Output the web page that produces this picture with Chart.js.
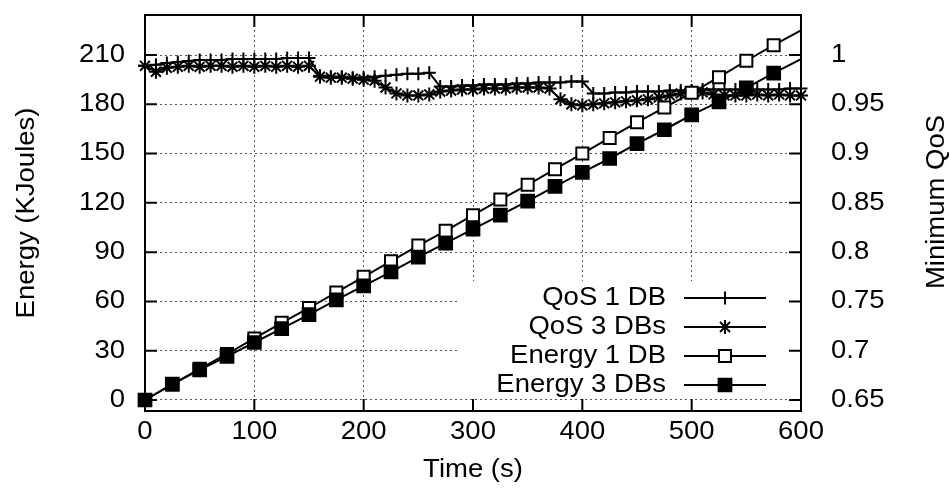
<!DOCTYPE html>
<html>
<head>
<meta charset="utf-8">
<title>Energy and minimum QoS over time</title>
<script src="https://cdn.jsdelivr.net/npm/chart.js@4/dist/chart.umd.min.js"></script>
<style>
  html, body { margin: 0; padding: 0; background: #fff; }
  canvas { display: block; }
</style>
</head>
<body>
<canvas id="c" width="949" height="495"></canvas>
<script>
// ---- data ----
const timeTicks = [0, 100, 200, 300, 400, 500, 600];
const energyTicks = [0, 30, 60, 90, 120, 150, 180, 210];
const qosTicks = [0.65, 0.7, 0.75, 0.8, 0.85, 0.9, 0.95, 1];

const seriesNames = ['QoS 1 DB', 'QoS 3 DBs', 'Energy 1 DB', 'Energy 3 DBs'];

// QoS samples (s)
const qosTimes = [
  0, 10, 20, 30, 40, 50, 60, 70, 80, 90,
  100, 110, 120, 130, 140, 150, 160, 170, 180, 190,
  200, 210, 220, 230, 240, 250, 260, 270, 280, 290,
  300, 310, 320, 330, 340, 350, 360, 370, 380, 390,
  400, 410, 420, 430, 440, 450, 460, 470, 480, 490,
  500, 510, 520, 530, 540, 550, 560, 570, 580, 590, 600
];
const qos1DB = [
  0.989, 0.990, 0.992, 0.993, 0.994, 0.995, 0.995, 0.995, 0.996, 0.996,
  0.996, 0.996, 0.996, 0.997, 0.997, 0.997, 0.979, 0.978, 0.978, 0.977,
  0.977, 0.978, 0.979, 0.980, 0.981, 0.981, 0.982, 0.968, 0.968, 0.969,
  0.969, 0.970, 0.970, 0.970, 0.971, 0.971, 0.972, 0.972, 0.972, 0.973,
  0.973, 0.961, 0.961, 0.962, 0.962, 0.963, 0.963, 0.963, 0.964, 0.964,
  0.964, 0.965, 0.965, 0.965, 0.965, 0.965, 0.965, 0.965, 0.965, 0.966, 0.966
];
const qos3DBs = [
  0.989, 0.983, 0.987, 0.988, 0.989, 0.988, 0.989, 0.989, 0.988, 0.989,
  0.988, 0.989, 0.988, 0.989, 0.988, 0.989, 0.978, 0.977, 0.977, 0.976,
  0.975, 0.974, 0.967, 0.961, 0.959, 0.959, 0.960, 0.963, 0.964, 0.965,
  0.965, 0.966, 0.966, 0.966, 0.967, 0.967, 0.967, 0.966, 0.955, 0.950,
  0.949, 0.950, 0.951, 0.952, 0.953, 0.954, 0.955, 0.957, 0.959, 0.961,
  0.963, 0.962, 0.960, 0.959, 0.959, 0.959, 0.960, 0.959, 0.960, 0.959, 0.959
];

// Energy samples (s)
const energyTimes = [
  0, 25, 50, 75, 100, 125, 150, 175, 200, 225, 250, 275,
  300, 325, 350, 375, 400, 425, 450, 475, 500, 525, 550, 575, 600
];
const energy1DB = [
  0, 9.5, 19, 28, 37.5, 47, 56, 65.5, 75, 84.5, 94, 103,
  112.5, 122, 131, 140.5, 150, 159.5, 169, 178, 187, 196.5, 206.5, 216, 225
];
const energy3DBs = [
  0, 9.7, 18.3, 26.5, 35, 43.5, 52, 61, 69.5, 78, 87, 95.5,
  104, 112.5, 121, 130, 138.5, 147, 156, 164.5, 173.5, 181.5, 190, 199, 207.5
];

// ---- styling ----
const INK = '#000';
const GRID = '#555';
const FONT = { family: '"Liberation Sans", Arial, Helvetica, sans-serif', size: 25 };
const TEXT_WIDEN = 1.1;    // the labels use a slightly widened face
const TICK_LEN = 12;       // inward tick marks
const MARK_R = [6.5, 7, 8.5, 9];

const canvas = document.getElementById('c');
const ctx = canvas.getContext('2d');

// widen every glyph run horizontally (in the text's own direction)
const baseFillText = CanvasRenderingContext2D.prototype.fillText;
ctx.fillText = function (text, x, y) {
  this.save();
  this.translate(x, y);
  this.scale(TEXT_WIDEN, 1);
  baseFillText.call(this, text, 0, 0);
  this.restore();
};

const toPoints = (xs, ys) => xs.map((x, i) => ({ x: x, y: ys[i] }));
const noMarkerOnLast = (r) => (c) => (c.dataIndex === c.dataset.data.length - 1 ? 0 : r);

const lineBase = {
  borderColor: INK,
  borderWidth: 2,
  pointBorderColor: INK,
  pointBorderWidth: 2,
  pointHoverRadius: 0,
  tension: 0,
  fill: false,
  clip: false
};

const datasets = [
  Object.assign({}, lineBase, {
    label: seriesNames[0], yAxisID: 'y2', order: 4,
    data: toPoints(qosTimes, qos1DB),
    pointStyle: 'cross', pointRadius: MARK_R[0], pointBackgroundColor: INK
  }),
  Object.assign({}, lineBase, {
    label: seriesNames[1], yAxisID: 'y2', order: 3,
    data: toPoints(qosTimes, qos3DBs),
    pointStyle: 'star', pointRadius: MARK_R[1], pointBackgroundColor: INK
  }),
  Object.assign({}, lineBase, {
    label: seriesNames[2], yAxisID: 'y', order: 2,
    data: toPoints(energyTimes, energy1DB),
    pointStyle: 'rect', pointRadius: noMarkerOnLast(MARK_R[2]), pointBackgroundColor: '#fff'
  }),
  Object.assign({}, lineBase, {
    label: seriesNames[3], yAxisID: 'y', order: 1,
    data: toPoints(energyTimes, energy3DBs),
    pointStyle: 'rect', pointRadius: noMarkerOnLast(MARK_R[3]), pointBackgroundColor: INK
  })
];

// key box, plot frame, inward ticks and the right-hand axis title
const framePlugin = {
  id: 'frame',
  beforeDatasetsDraw(chart) {
    const c = chart.ctx;
    const a = chart.chartArea;
    const boxRight = a.right - 11, boxBottom = a.bottom - 14;
    const boxLeft = boxRight - 332, boxTop = boxBottom - 116;
    c.save();
    c.fillStyle = '#fff';
    c.fillRect(boxLeft, boxTop, boxRight - boxLeft, boxBottom - boxTop);

    const textRight = boxLeft + 208;
    const lineX0 = boxLeft + 226, lineX1 = boxLeft + 308;
    const markX = (lineX0 + lineX1) / 2;
    c.font = `${FONT.size}px ${FONT.family}`;
    c.textAlign = 'right';
    c.textBaseline = 'middle';
    chart.data.datasets.forEach((ds, i) => {
      const y = boxTop + 17 + i * 29;
      c.fillStyle = INK;
      c.fillText(ds.label, textRight, y);
      c.strokeStyle = INK;
      c.lineWidth = 2;
      c.beginPath();
      c.moveTo(lineX0, y);
      c.lineTo(lineX1, y);
      c.stroke();
      c.fillStyle = ds.pointBackgroundColor;
      Chart.helpers.drawPoint(c, { pointStyle: ds.pointStyle, rotation: 0, radius: MARK_R[i], borderWidth: 2 }, markX, y);
    });
    c.restore();
  },
  afterDraw(chart) {
    const c = chart.ctx;
    const a = chart.chartArea;
    const { x, y, y2 } = chart.scales;
    c.save();
    c.strokeStyle = INK;
    c.lineWidth = 2;
    c.beginPath();
    timeTicks.forEach(v => {
      const px = x.getPixelForValue(v);
      c.moveTo(px, a.bottom); c.lineTo(px, a.bottom - TICK_LEN);
      c.moveTo(px, a.top); c.lineTo(px, a.top + TICK_LEN);
    });
    energyTicks.forEach(v => {
      const py = y.getPixelForValue(v);
      c.moveTo(a.left, py); c.lineTo(a.left + TICK_LEN, py);
    });
    qosTicks.forEach(v => {
      const py = y2.getPixelForValue(v);
      c.moveTo(a.right, py); c.lineTo(a.right - TICK_LEN, py);
    });
    c.stroke();
    c.strokeRect(a.left, a.top, a.right - a.left, a.bottom - a.top);

    // right axis title reads bottom-to-top
    c.fillStyle = INK;
    c.font = `${FONT.size}px ${FONT.family}`;
    c.textAlign = 'center';
    c.textBaseline = 'middle';
    c.translate(937, (a.top + a.bottom) / 2 - 11);
    c.rotate(-Math.PI / 2);
    c.fillText('Minimum QoS', 0, 0);
    c.restore();
  }
};

// fixed axis bands so the plot frame sits where it should
const fixBand = (prop, size) => (s) => {
  s[prop] = size;
  s.paddingTop = 0; s.paddingBottom = 0; s.paddingLeft = 0; s.paddingRight = 0;
};

const tickFont = { font: FONT, color: INK, autoSkip: false, maxRotation: 0, minRotation: 0 };

new Chart(ctx, {
  type: 'line',
  data: { datasets: datasets },
  options: {
    responsive: false,
    animation: false,
    devicePixelRatio: 1,
    events: [],
    layout: { padding: { top: 15, left: 0, right: 0, bottom: 0 } },
    plugins: { legend: { display: false }, tooltip: { enabled: false }, title: { display: false } },
    scales: {
      x: {
        type: 'linear', position: 'bottom', min: 0, max: 600,
        afterBuildTicks: s => { s.ticks = timeTicks.map(v => ({ value: v })); },
        afterFit: fixBand('height', 84),
        grid: { color: GRID, lineWidth: 1, drawTicks: false },
        border: { display: false, dash: [2, 3] },
        ticks: Object.assign({}, tickFont, { padding: 6, callback: v => String(v) }),
        title: { display: true, text: 'Time (s)', font: FONT, color: INK, padding: { top: 0, bottom: 10 } }
      },
      y: {
        type: 'linear', position: 'left', min: -6.696, max: 234.348,
        afterBuildTicks: s => { s.ticks = energyTicks.map(v => ({ value: v })); },
        afterFit: fixBand('width', 145),
        grid: { color: GRID, lineWidth: 1, drawTicks: false },
        border: { display: false, dash: [2, 3] },
        ticks: Object.assign({}, tickFont, { padding: 20, callback: v => String(v) }),
        title: { display: true, text: 'Energy (KJoules)', font: FONT, color: INK, padding: { top: 12, bottom: 0 } }
      },
      y2: {
        type: 'linear', position: 'right', min: 0.63884, max: 1.04058,
        afterBuildTicks: s => { s.ticks = qosTicks.map(v => ({ value: v })); },
        afterFit: fixBand('width', 148),
        grid: { display: false, drawOnChartArea: false },
        border: { display: false },
        ticks: Object.assign({}, tickFont, { padding: 22, callback: v => String(+Number(v).toFixed(2)) }),
        title: { display: false }
      }
    }
  },
  plugins: [framePlugin]
});
</script>
</body>
</html>
